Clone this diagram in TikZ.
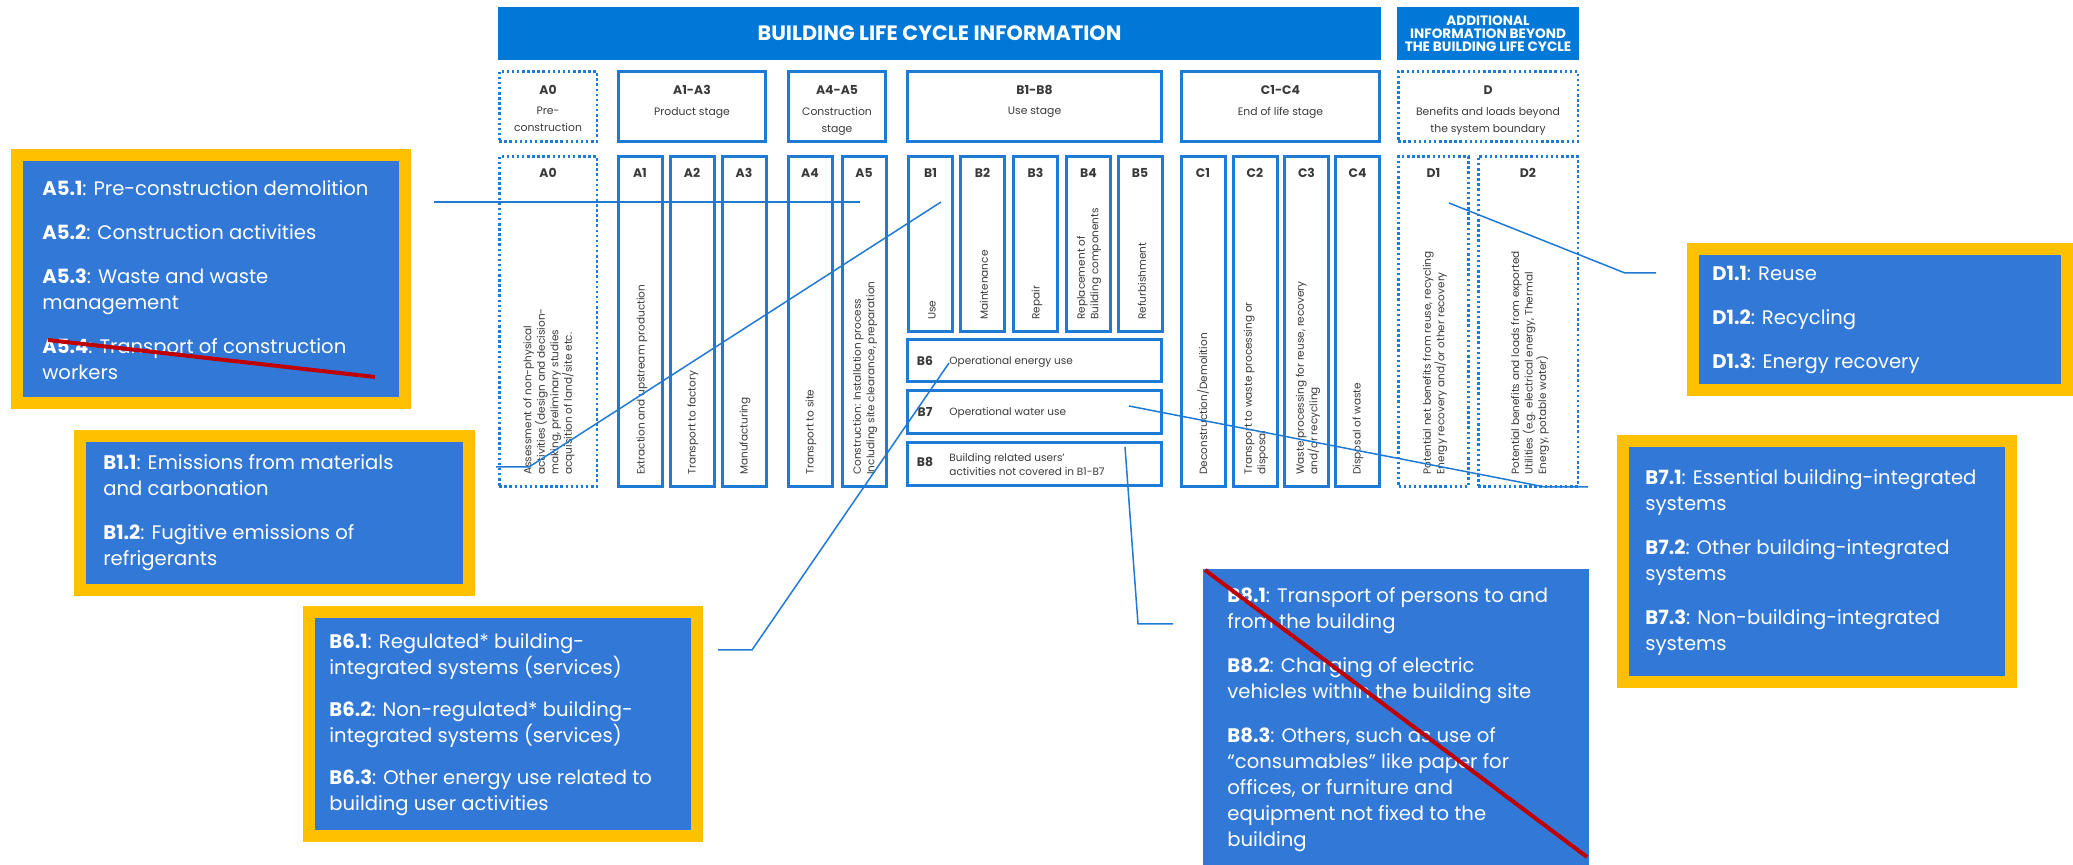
\documentclass[tikz,border=0pt]{standalone}
\usepackage{fontspec}
\setmainfont{Poppins}

\definecolor{hdrblue}{HTML}{0078D7}
\definecolor{lineblue}{HTML}{1F7AD6}
\definecolor{callblue}{HTML}{3278D7}
\definecolor{callgold}{HTML}{FFC000}
\definecolor{strikered}{HTML}{C00000}
\definecolor{inkgrey}{HTML}{3A3A3A}

\newcommand{\subid}[1]{\textbf{#1}:}

\tikzset{
  banner/.style={fill=hdrblue, text=white, align=center, inner sep=0},
  stagebox/.style={draw=lineblue, line width=1.5pt, inner sep=0},
  dotbox/.style={draw=lineblue, line width=1.25pt, dash pattern=on 1.25pt off 1.3pt, inner sep=0},
  colhead/.style={font=\fontsize{6.2}{7}\selectfont\bfseries, text=inkgrey, inner sep=0},
  coltext/.style={font=\fontsize{5.25}{6.75}\selectfont, text=inkgrey, align=left, inner sep=0, rotate=90, anchor=west},
  rowtext/.style={font=\fontsize{5.25}{7}\selectfont, text=inkgrey, align=left, inner sep=0, anchor=west},
  stagetext/.style={font=\fontsize{5.4}{8.5}\selectfont, text=inkgrey, align=center, inner sep=0, anchor=north},
  callout/.style={fill=callblue, draw=callgold, line width=6pt, inner sep=0},
  callnote/.style={text=white, align=left, inner sep=0, anchor=west, font=\fontsize{9.8}{13}\selectfont},
  lead/.style={draw=lineblue, line width=0.75pt},
  strike/.style={draw=strikered, line width=2pt}
}

\begin{document}
\begin{tikzpicture}[x=0.5pt, y=-0.5pt]
  \useasboundingbox (0,0) rectangle (2073,865);

  % banners
  \node[banner, minimum width=441.5pt, minimum height=26.5pt, font=\fontsize{10.4}{11}\selectfont\bfseries]
    (life) at (939.5,33.5) {BUILDING LIFE CYCLE INFORMATION};
  \node[banner, minimum width=91pt, minimum height=26.5pt, font=\fontsize{6.8}{6.6}\selectfont\bfseries]
    (beyond) at (1488,33.5) {ADDITIONAL\\INFORMATION BEYOND\\THE BUILDING LIFE CYCLE};

  % stage boxes
  \node[dotbox, minimum width=48.75pt, minimum height=35pt] (s0) at (548,106.5) {};
  \node[stagebox, minimum width=73.5pt, minimum height=35pt] (s1) at (692,106.5) {};
  \node[stagebox, minimum width=48.5pt, minimum height=35pt] (s2) at (837,106.5) {};
  \node[stagebox, minimum width=127pt, minimum height=35pt] (s3) at (1034.5,106.5) {};
  \node[stagebox, minimum width=99pt, minimum height=35pt] (s4) at (1280.5,106.5) {};
  \node[dotbox, minimum width=89.75pt, minimum height=35pt] (s5) at (1488,106.5) {};

  \node[colhead] (s0h) at (548,90) {A0};
  \node[colhead] (s1h) at (692,90) {A1-A3};
  \node[colhead] (s2h) at (837,90) {A4-A5};
  \node[colhead] (s3h) at (1034.5,90) {B1-B8};
  \node[colhead] (s4h) at (1280.5,90) {C1-C4};
  \node[colhead] (s5h) at (1488,90) {D};
  \node[stagetext] (s0t) at (548,107) {Pre-\\construction};
  \node[stagetext] (s1t) at (692,107) {Product stage};
  \node[stagetext] (s2t) at (837,107) {Construction\\stage};
  \node[stagetext] (s3t) at (1034.5,107) {Use stage};
  \node[stagetext] (s4t) at (1280.5,107) {End of life stage};
  \node[stagetext] (s5t) at (1488,107) {Benefits and loads beyond\\the system boundary};

  % modules
  \node[dotbox, minimum width=48.75pt, minimum height=165pt] (a0) at (548,321.5) {};
  \node[stagebox, minimum width=22pt, minimum height=165pt] (a1) at (640,321.5) {};
  \node[stagebox, minimum width=22pt, minimum height=165pt] (a2) at (692,321.5) {};
  \node[stagebox, minimum width=22pt, minimum height=165pt] (a3) at (744,321.5) {};
  \node[stagebox, minimum width=22pt, minimum height=165pt] (a4) at (810,321.5) {};
  \node[stagebox, minimum width=22pt, minimum height=165pt] (a5) at (864,321.5) {};
  \node[stagebox, minimum width=22pt, minimum height=87.5pt] (b1) at (930.5,244) {};
  \node[stagebox, minimum width=22pt, minimum height=87.5pt] (b2) at (982.5,244) {};
  \node[stagebox, minimum width=22pt, minimum height=87.5pt] (b3) at (1035.5,244) {};
  \node[stagebox, minimum width=22pt, minimum height=87.5pt] (b4) at (1088.5,244) {};
  \node[stagebox, minimum width=22pt, minimum height=87.5pt] (b5) at (1140,244) {};
  \node[stagebox, minimum width=127pt, minimum height=21pt] (b6) at (1034.5,360.5) {};
  \node[stagebox, minimum width=127pt, minimum height=21.5pt] (b7) at (1034.5,412) {};
  \node[stagebox, minimum width=127pt, minimum height=21.5pt] (b8) at (1034.5,464) {};
  \node[stagebox, minimum width=22pt, minimum height=165pt] (c1) at (1203,321.5) {};
  \node[stagebox, minimum width=22pt, minimum height=165pt] (c2) at (1255,321.5) {};
  \node[stagebox, minimum width=22pt, minimum height=165pt] (c3) at (1306.5,321.5) {};
  \node[stagebox, minimum width=22pt, minimum height=165pt] (c4) at (1357.5,321.5) {};
  \node[dotbox, minimum width=35pt, minimum height=165pt] (d1) at (1433.5,321.5) {};
  \node[dotbox, minimum width=49.75pt, minimum height=165pt] (d2) at (1528,321.5) {};

  \node[colhead] (a0h) at (548,173) {A0};
  \node[colhead] (a1h) at (640,173) {A1};
  \node[colhead] (a2h) at (692,173) {A2};
  \node[colhead] (a3h) at (744,173) {A3};
  \node[colhead] (a4h) at (810,173) {A4};
  \node[colhead] (a5h) at (864,173) {A5};
  \node[colhead] (b1h) at (930.5,173) {B1};
  \node[colhead] (b2h) at (982.5,173) {B2};
  \node[colhead] (b3h) at (1035.5,173) {B3};
  \node[colhead] (b4h) at (1088.5,173) {B4};
  \node[colhead] (b5h) at (1140,173) {B5};
  \node[colhead] (c1h) at (1203,173) {C1};
  \node[colhead] (c2h) at (1255,173) {C2};
  \node[colhead] (c3h) at (1306.5,173) {C3};
  \node[colhead] (c4h) at (1357.5,173) {C4};
  \node[colhead] (d1h) at (1433.5,173) {D1};
  \node[colhead] (d2h) at (1528,173) {D2};
  \node[colhead] (b6h) at (925,361) {B6};
  \node[colhead] (b7h) at (925,412) {B7};
  \node[colhead] (b8h) at (925,462) {B8};

  \node[coltext] (a0t) at (549,475) {Assessment of non-physical\\activities (design and decision-\\making, preliminary studies\\acquisition of land/site etc.};
  \node[coltext] (a1t) at (642,475) {Extraction and upstream production};
  \node[coltext] (a2t) at (693,475) {Transport to factory};
  \node[coltext] (a3t) at (745,475) {Manufacturing};
  \node[coltext] (a4t) at (811,475) {Transport to site};
  \node[coltext] (a5t) at (865,475) {Construction: Installation process\\Including site clearance, preparation};
  \node[coltext] (b1t) at (932,320) {Use};
  \node[coltext] (b2t) at (984,320) {Maintenance};
  \node[coltext] (b3t) at (1037,320) {Repair};
  \node[coltext] (b4t) at (1089,320) {Replacement of\\Building components};
  \node[coltext] (b5t) at (1142,320) {Refurbishment};
  \node[rowtext] (b6t) at (949,362) {Operational energy use};
  \node[rowtext] (b7t) at (949,413) {Operational water use};
  \node[rowtext] (b8t) at (949,465) {Building related users'\\activities not covered in B1-B7};
  \node[coltext] (c1t) at (1203,475) {Deconstruction/Demolition};
  \node[coltext] (c2t) at (1256,475) {Transport to waste processing or\\disposal};
  \node[coltext] (c3t) at (1308,475) {Waste processing for reuse, recovery\\and/or recycling};
  \node[coltext] (c4t) at (1358,475) {Disposal of waste};
  \node[coltext] (d1t) at (1435,475) {Potential net benefits from reuse, recycling\\Energy recovery  and/or other recovery};
  \node[coltext] (d2t) at (1530,475) {Potential benefits and loads from exported\\Utilities (e.g. electrical energy, Thermal\\Energy, potable water)};

  % callouts
  \node[callout, minimum width=194pt, minimum height=124pt] (a5box) at (211,279) {};
  \node[callnote] (a5note) at (42,280)
    {\subid{A5.1} Pre-construction demolition\\[9pt]
     \subid{A5.2} Construction activities\\[9pt]
     \subid{A5.3} Waste and waste\\management\\[9pt]
     \subid{A5.4} Transport of construction\\workers};
  \node[callout, minimum width=194.5pt, minimum height=77pt] (b1box) at (274.5,513) {};
  \node[callnote] (b1note) at (103,513)
    {\subid{B1.1} Emissions from materials\\and carbonation\\[9pt]
     \subid{B1.2} Fugitive emissions of\\refrigerants};
  \node[callout, minimum width=194pt, minimum height=112pt] (b6box) at (503,724) {};
  \node[callnote] (b6note) at (329,725)
    {\subid{B6.1} Regulated* building-\\integrated systems (services)\\[8pt]
     \subid{B6.2} Non-regulated* building-\\integrated systems (services)\\[8pt]
     \subid{B6.3} Other energy use related to\\building user activities};
  \node[callout, minimum width=194pt, minimum height=120.5pt] (b7box) at (1817,561.5) {};
  \node[callnote] (b7note) at (1645,563)
    {\subid{B7.1} Essential building-integrated\\systems\\[9pt]
     \subid{B7.2} Other building-integrated\\systems\\[9pt]
     \subid{B7.3} Non-building-integrated\\systems};
  \node[callout, minimum width=187pt, minimum height=70.5pt] (d1box) at (1880,319.5) {};
  \node[callnote] (d1note) at (1712,320)
    {\subid{D1.1} Reuse\\[9pt]
     \subid{D1.2} Recycling\\[9pt]
     \subid{D1.3} Energy recovery};
  \node[callout, draw=none, minimum width=193pt, minimum height=148pt] (b8box) at (1396,717) {};
  \node[callnote] (b8note) at (1227,720)
    {\subid{B8.1} Transport of persons to and\\from the building\\[9pt]
     \subid{B8.2} Charging of electric\\vehicles within the building site\\[9pt]
     \subid{B8.3} Others, such as use of\\``consumables'' like paper for\\offices, or furniture and\\equipment not fixed to the\\building};

  % leader lines
  \coordinate (a5pin) at (860,202);
  \coordinate (a5end) at (434,202);
  \coordinate (b1pin) at (941,202);
  \coordinate (b1bend) at (529,467);
  \coordinate (b1end) at (496,467);
  \coordinate (b6pin) at (949,363);
  \coordinate (b6bend) at (752,650);
  \coordinate (b6end) at (718,650);
  \coordinate (b7pin) at (1129,406);
  \coordinate (b7bend) at (1545,487);
  \coordinate (b7end) at (1588,487);
  \coordinate (b8pin) at (1125,447);
  \coordinate (b8bend) at (1138,624);
  \coordinate (b8end) at (1173,624);
  \coordinate (d1pin) at (1449,203);
  \coordinate (d1bend) at (1625,273);
  \coordinate (d1end) at (1656,273);
  \draw[lead] (a5pin) -- (a5end);
  \draw[lead] (b1pin) -- (b1bend) -- (b1end);
  \draw[lead] (b6pin) -- (b6bend) -- (b6end);
  \draw[lead] (b7pin) -- (b7bend) -- (b7end);
  \draw[lead] (b8pin) -- (b8bend) -- (b8end);
  \draw[lead] (d1pin) -- (d1bend) -- (d1end);

  % struck out
  \coordinate (a5x1) at (48,340);
  \coordinate (a5x2) at (375,377);
  \coordinate (b8x1) at (1205,570);
  \coordinate (b8x2) at (1587,857);
  \draw[strike] (a5x1) -- (a5x2);
  \draw[strike] (b8x1) -- (b8x2);
\end{tikzpicture}
\end{document}
